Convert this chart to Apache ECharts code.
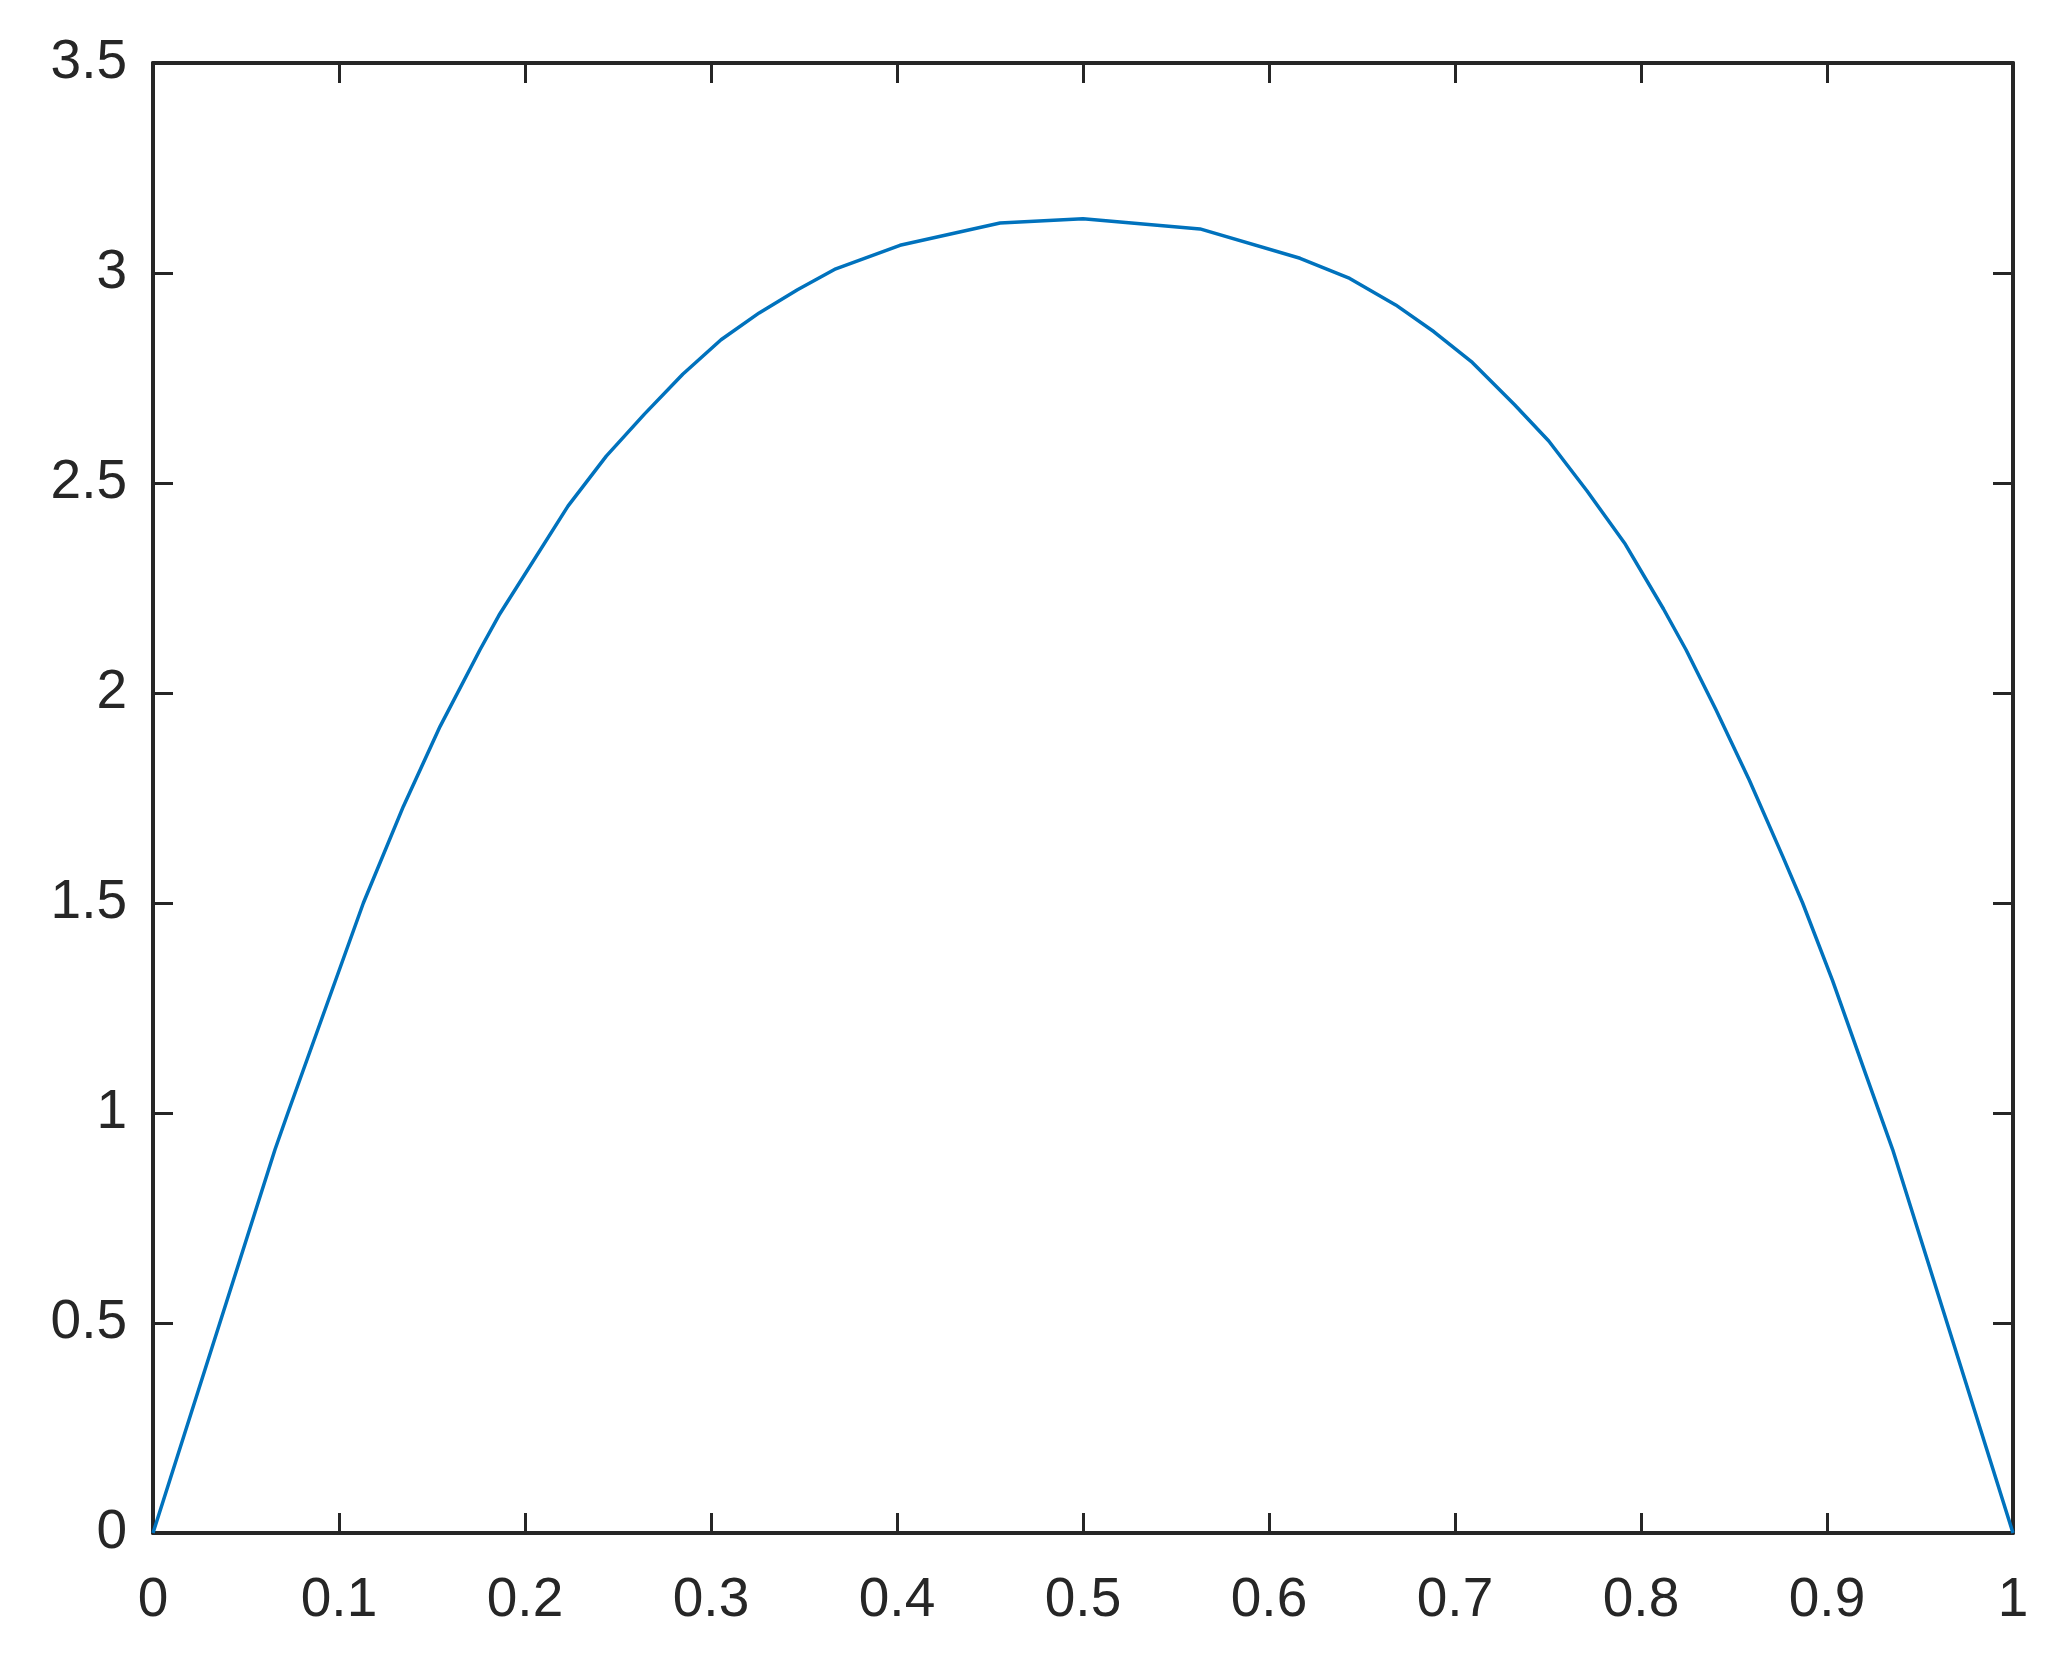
<!DOCTYPE html>
<html>
<head>
<meta charset="utf-8">
<script src="https://cdn.jsdelivr.net/npm/echarts@6/dist/echarts.min.js"></script>
<style>
html,body{margin:0;padding:0;background:#fff;}
#chart{width:2051px;height:1659px;}
</style>
</head>
<body>
<div id="chart"></div>
<script>
// x positions
var xValues = [0, 0.0656, 0.0725, 0.1131, 0.1346, 0.1543, 0.1758, 0.186, 0.2231, 0.2437, 0.2642, 0.2848, 0.3054, 0.3259, 0.3465, 0.3671, 0.4016, 0.4554, 0.5,
  0.5629, 0.6167, 0.6434, 0.6681, 0.6887, 0.7093, 0.7319, 0.7504, 0.771, 0.7916, 0.8121, 0.8242, 0.8403, 0.8582, 0.8762, 0.8869, 0.903, 0.921, 0.9353, 1];
// y values
var yValues = [0, 0.913, 1.0, 1.5, 1.73, 1.92, 2.103, 2.185, 2.445, 2.564, 2.664, 2.759, 2.841, 2.905, 2.96, 3.01, 3.066, 3.119, 3.129,
  3.105, 3.035, 2.987, 2.924, 2.86, 2.787, 2.687, 2.6, 2.481, 2.354, 2.2, 2.103, 1.96, 1.793, 1.611, 1.5, 1.315, 1.09, 0.913, 0];
var xTickLabels = ['0', '0.1', '0.2', '0.3', '0.4', '0.5', '0.6', '0.7', '0.8', '0.9', '1'];
var yTickLabels = ['0', '0.5', '1', '1.5', '2', '2.5', '3', '3.5'];

var seriesData = xValues.map(function (x, i) { return [x, yValues[i]]; });

var axisColor = '#262626';
var font = '"Liberation Sans", Arial, Helvetica, sans-serif';

function xLabel(v) { var i = Math.round(v * 10); return xTickLabels[i] !== undefined ? xTickLabels[i] : ''; }
function yLabel(v) { var i = Math.round(v * 2); return yTickLabels[i] !== undefined ? yTickLabels[i] : ''; }

var common = {
  axisLine: { show: true, onZero: false, lineStyle: { color: axisColor, width: 4 } },
  axisTick: { show: true, inside: true, length: 20, lineStyle: { color: axisColor, width: 3 } },
  splitLine: { show: false }
};

var chart = echarts.init(document.getElementById('chart'), null, { renderer: 'canvas' });
chart.setOption({
  backgroundColor: '#ffffff',
  animation: false,
  grid: { left: 153, right: 38, top: 63, bottom: 126, containLabel: false },
  xAxis: [
    Object.assign({
      type: 'value', position: 'bottom', min: 0, max: 1, interval: 0.1,
      axisLabel: { show: true, margin: 40, color: axisColor, fontSize: 55, fontFamily: font, formatter: xLabel }
    }, common),
    Object.assign({
      type: 'value', position: 'top', min: 0, max: 1, interval: 0.1,
      axisLabel: { show: false }
    }, common)
  ],
  yAxis: [
    Object.assign({
      type: 'value', position: 'left', min: 0, max: 3.5, interval: 0.5,
      axisLabel: { show: true, margin: 26, color: axisColor, fontSize: 55, fontFamily: font, formatter: yLabel, padding: [10, 0, 0, 0] }
    }, common),
    Object.assign({
      type: 'value', position: 'right', min: 0, max: 3.5, interval: 0.5,
      axisLabel: { show: false }
    }, common)
  ],
  series: [{
    type: 'line',
    data: seriesData,
    xAxisIndex: 0,
    yAxisIndex: 0,
    showSymbol: false,
    smooth: false,
    lineStyle: { color: '#0072BD', width: 3.5, join: 'round' },
    clip: false
  }]
});
</script>
</body>
</html>
